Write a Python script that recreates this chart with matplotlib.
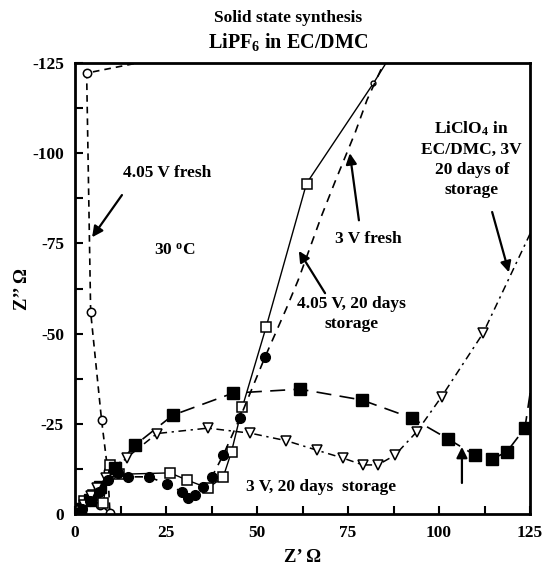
import numpy as np
import matplotlib
matplotlib.use("Agg")
import matplotlib.pyplot as plt

plt.rcParams['font.family'] = ['Liberation Serif', 'DejaVu Serif']
plt.rcParams['font.weight'] = 'bold'
plt.rcParams['mathtext.fontset'] = 'custom'
plt.rcParams['mathtext.rm'] = 'Liberation Serif:bold'
plt.rcParams['mathtext.it'] = 'Liberation Serif:bold'
plt.rcParams['mathtext.bf'] = 'Liberation Serif:bold'
plt.rcParams['axes.unicode_minus'] = False

# Nyquist data, Z' (ohm) and Z'' (ohm, negative up)
fresh405_x = [35.0, 3.2, 4.3, 7.3, 9.0, 9.6, 7.0, 4.5, 2.0, 0.6]
fresh405_y = [-128.6, -122.2, -56.0, -26.0, -12.0, -0.3, -2.5, -3.5, -2.0, -0.6]

stored405_x = [0.8, 2.5, 5.0, 7.7, 9.6, 12.0, 26.1, 30.8, 36.5, 40.7, 43.0,
               46.0, 52.5, 63.6, 82.0, 87.0]
stored405_y = [-1.0, -3.5, -5.3, -3.0, -13.6, -11.0, -11.4, -9.4, -7.2, -10.2,
               -17.3, -29.7, -51.8, -91.6, -119.4, -127.5]

stored3_x = [1.5, 4.0, 7.0, 11.0, 16.5, 26.9, 43.4, 61.8, 78.8, 92.5, 102.5,
             109.9, 114.5, 118.6, 123.6, 126.0]
stored3_y = [-1.5, -4.0, -7.5, -12.7, -19.1, -27.4, -33.5, -34.6, -31.6, -26.6,
             -20.8, -16.3, -15.2, -17.2, -23.8, -40.0]

clo4_x = [0.5, 2.5, 4.5, 6.0, 8.5, 14.2, 22.5, 36.5, 48.2, 58.1, 66.4, 73.6,
          79.1, 83.2, 87.9, 93.9, 100.7, 112.1, 124.2, 127.0]
clo4_y = [-0.8, -2.5, -5.0, -7.2, -10.0, -15.6, -22.3, -23.8, -22.4, -20.3,
          -17.7, -15.5, -13.6, -13.6, -16.3, -22.8, -32.5, -50.1, -75.9, -82.0]

fresh3_x = [0.5, 2.0, 4.0, 6.5, 9.0, 11.8, 14.6, 20.3, 25.3, 29.4, 31.0, 33.0,
            35.2, 37.6, 40.7, 45.3, 52.2, 58.0, 61.3, 67.8, 71.4, 77.0, 80.2, 86.0]
fresh3_y = [-0.3, -1.5, -3.5, -6.0, -9.5, -11.3, -10.3, -10.3, -8.3, -6.1, -4.4,
            -5.3, -7.5, -10.3, -16.3, -26.6, -43.5, -56.8, -64.8, -82.8, -92.0,
            -105.8, -114.7, -127.5]

xticks = [0, 25, 50, 75, 100, 125]
yticks = [0, -25, -50, -75, -100, -125]

fig = plt.figure(figsize=(5.47, 5.70), dpi=100)
ax = fig.add_axes([75 / 547, 1 - 514 / 570, 455 / 547, 451 / 570])

ax.plot(fresh405_x, fresh405_y, color='k', lw=1.2, dashes=(4, 3),
        marker='o', ms=6, mfc='white', mec='k', mew=1.1, markevery=range(1, 10))
ax.plot(stored405_x, stored405_y, color='k', lw=1.0, ls='-',
        marker='s', ms=7, mfc='white', mec='k', mew=1.1, markevery=range(0, 14))
ax.plot(stored405_x[14], stored405_y[14], 'o', ms=3.5, mfc='white', mec='k', mew=1.0)
ax.plot(stored3_x, stored3_y, color='k', lw=1.2, dashes=(9, 5),
        marker='s', ms=8, mfc='k', mec='k', markevery=range(0, 15))
ax.plot(clo4_x, clo4_y, color='k', lw=1.1, dashes=(5, 3, 1.5, 3),
        marker='v', ms=7, mfc='white', mec='k', mew=1.1, markevery=range(0, 18))
ax.plot(fresh3_x, fresh3_y, color='k', lw=1.2, dashes=(5, 4),
        marker='o', ms=7, mfc='k', mec='k', markevery=range(0, 17))

ax.set_xlim(0, 125)
ax.set_ylim(0, -125)
ax.set_xticks(xticks)
ax.set_yticks(yticks)
ax.set_xticks(np.arange(12.5, 125, 25), minor=True)
ax.set_yticks(-np.arange(12.5, 125, 25), minor=True)
ax.tick_params(which='both', direction='in', length=6, width=1.5,
               top=False, right=False, labelsize=12.5, pad=8)
for lab in ax.get_xticklabels() + ax.get_yticklabels():
    lab.set_fontweight('bold')
for sp in ax.spines.values():
    sp.set_linewidth(2)

ax.set_xlabel("Z\u2019 \u03a9", fontsize=13.5, fontweight='bold', labelpad=6)
ax.set_ylabel("Z\u2019\u2019 \u03a9", fontsize=13.5, fontweight='bold', labelpad=1)

fig.text(288 / 547, 1 - 18 / 570, "Solid state synthesis", ha='center', va='center',
         fontsize=12.5, fontweight='bold')
fig.text(288 / 547, 1 - 42 / 570, r"LiPF$_6$ in EC/DMC", ha='center', va='center',
         fontsize=14.5, fontweight='bold')

fs = 12.5
ax.text(25.3, -94.5, "4.05 V fresh", ha='center', va='center', fontsize=fs)
ax.text(27.5, -73.1, r"30 $^{\mathrm{o}}$C", ha='center', va='center', fontsize=fs)
ax.text(80.5, -76.2, "3 V fresh", ha='center', va='center', fontsize=fs)
ax.text(76.0, -55.5, "4.05 V, 20 days\nstorage", ha='center', va='center',
        fontsize=fs, linespacing=1.3)
ax.text(109.0, -98.5, "LiClO$_4$ in\nEC/DMC, 3V\n20 days of\nstorage", ha='center',
        va='center', fontsize=fs, linespacing=1.32)
ax.text(67.6, -7.5, "3 V, 20 days  storage", ha='center', va='center', fontsize=fs)

arrow = dict(arrowstyle='-|>', lw=1.6, color='k', mutation_scale=16, shrinkA=0, shrinkB=0)
ax.annotate("", xy=(4.7, -76.7), xytext=(12.9, -88.4), arrowprops=arrow)
ax.annotate("", xy=(75.5, -100.0), xytext=(78.0, -81.4), arrowprops=arrow)
ax.annotate("", xy=(61.5, -72.9), xytext=(68.7, -61.2), arrowprops=arrow)
ax.annotate("", xy=(119.2, -67.0), xytext=(114.6, -83.7), arrowprops=arrow)
ax.annotate("", xy=(106.3, -18.6), xytext=(106.3, -8.6), arrowprops=arrow)

fig.savefig("out.png", dpi=100)
